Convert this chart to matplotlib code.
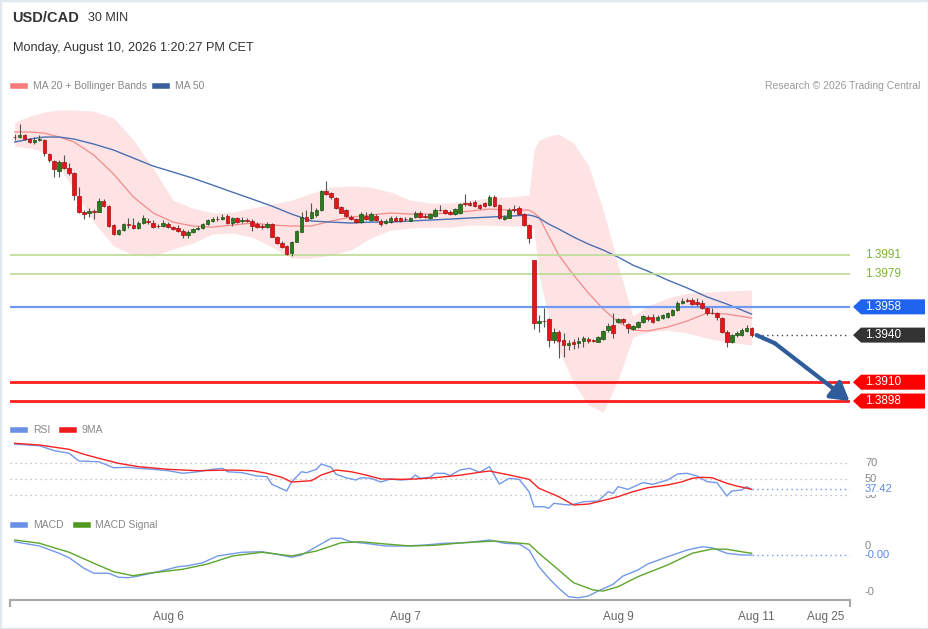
import matplotlib
matplotlib.use("Agg")
import matplotlib.pyplot as plt
import numpy as np
from matplotlib.patches import Polygon, Rectangle
from matplotlib.lines import Line2D

plt.rcParams['font.family'] = ['Liberation Sans', 'DejaVu Sans']

# ---- 30 min candles, USD/CAD ----
opens = [1.40662, 1.40662, 1.40674, 1.40649, 1.40630, 1.40643, 1.40643, 1.40553, 1.40509, 1.40445,
         1.40502, 1.40464, 1.40432, 1.40286, 1.40184, 1.40178, 1.40190, 1.40187, 1.40254, 1.40222,
         1.40101, 1.40044, 1.40069, 1.40107, 1.40101, 1.40082, 1.40114, 1.40127, 1.40114, 1.40095,
         1.40095, 1.40107, 1.40088, 1.40082, 1.40063, 1.40037, 1.40057, 1.40076, 1.40082, 1.40107,
         1.40127, 1.40139, 1.40139, 1.40158, 1.40114, 1.40146, 1.40127, 1.40133, 1.40127, 1.40107,
         1.40095, 1.40088, 1.40107, 1.40025, 1.39986, 1.39967, 1.39923, 1.39993, 1.40057, 1.40152,
         1.40146, 1.40165, 1.40197, 1.40318, 1.40305, 1.40273, 1.40216, 1.40197, 1.40152, 1.40139,
         1.40120, 1.40158, 1.40133, 1.40158, 1.40127, 1.40114, 1.40120, 1.40146, 1.40146, 1.40139,
         1.40127, 1.40152, 1.40178, 1.40158, 1.40146, 1.40158, 1.40197, 1.40197, 1.40184, 1.40171,
         1.40178, 1.40241, 1.40241, 1.40248, 1.40229, 1.40241, 1.40229, 1.40279, 1.40229, 1.40139,
         1.40146, 1.40203, 1.40209, 1.40171, 1.40101, 1.39878, 1.39477, 1.39490, 1.39502, 1.39369,
         1.39420, 1.39369, 1.39337, 1.39356, 1.39350, 1.39362, 1.39375, 1.39366, 1.39356, 1.39375,
         1.39432, 1.39464, 1.39483, 1.39502, 1.39471, 1.39439, 1.39451, 1.39483, 1.39515, 1.39515,
         1.39496, 1.39509, 1.39515, 1.39528, 1.39560, 1.39604, 1.39623, 1.39623, 1.39610, 1.39604,
         1.39572, 1.39541, 1.39541, 1.39509, 1.39420, 1.39356, 1.39400, 1.39400, 1.39426, 1.39445]
closes = [1.40660, 1.40674, 1.40649, 1.40630, 1.40643, 1.40649, 1.40560, 1.40515, 1.40458, 1.40502,
          1.40464, 1.40432, 1.40292, 1.40184, 1.40171, 1.40190, 1.40187, 1.40254, 1.40222, 1.40095,
          1.40044, 1.40069, 1.40107, 1.40101, 1.40082, 1.40114, 1.40146, 1.40120, 1.40088, 1.40092,
          1.40114, 1.40088, 1.40076, 1.40063, 1.40037, 1.40057, 1.40076, 1.40082, 1.40107, 1.40133,
          1.40139, 1.40137, 1.40152, 1.40114, 1.40146, 1.40120, 1.40133, 1.40127, 1.40095, 1.40088,
          1.40088, 1.40107, 1.40025, 1.39986, 1.39961, 1.39916, 1.39993, 1.40063, 1.40152, 1.40127,
          1.40184, 1.40197, 1.40318, 1.40299, 1.40279, 1.40209, 1.40178, 1.40158, 1.40139, 1.40120,
          1.40171, 1.40139, 1.40171, 1.40133, 1.40107, 1.40127, 1.40146, 1.40127, 1.40127, 1.40137,
          1.40146, 1.40178, 1.40152, 1.40154, 1.40171, 1.40197, 1.40195, 1.40178, 1.40171, 1.40203,
          1.40235, 1.40238, 1.40229, 1.40222, 1.40209, 1.40222, 1.40279, 1.40222, 1.40146, 1.40152,
          1.40197, 1.40200, 1.40171, 1.40101, 1.40018, 1.39477, 1.39490, 1.39488, 1.39369, 1.39420,
          1.39362, 1.39337, 1.39350, 1.39343, 1.39362, 1.39381, 1.39362, 1.39362, 1.39388, 1.39426,
          1.39458, 1.39413, 1.39502, 1.39483, 1.39445, 1.39458, 1.39483, 1.39521, 1.39502, 1.39483,
          1.39515, 1.39528, 1.39541, 1.39560, 1.39604, 1.39617, 1.39620, 1.39598, 1.39598, 1.39572,
          1.39541, 1.39538, 1.39515, 1.39420, 1.39356, 1.39400, 1.39413, 1.39432, 1.39445, 1.39400]
highs = [1.40681, 1.40744, 1.40681, 1.40655, 1.40662, 1.40674, 1.40649, 1.40560, 1.40515, 1.40515,
         1.40547, 1.40496, 1.40439, 1.40343, 1.40197, 1.40209, 1.40203, 1.40273, 1.40267, 1.40229,
         1.40107, 1.40076, 1.40114, 1.40146, 1.40146, 1.40127, 1.40165, 1.40146, 1.40133, 1.40107,
         1.40133, 1.40120, 1.40095, 1.40101, 1.40076, 1.40069, 1.40082, 1.40095, 1.40114, 1.40139,
         1.40152, 1.40158, 1.40171, 1.40171, 1.40152, 1.40152, 1.40152, 1.40146, 1.40139, 1.40120,
         1.40107, 1.40120, 1.40114, 1.40031, 1.39999, 1.39974, 1.39999, 1.40069, 1.40184, 1.40197,
         1.40241, 1.40209, 1.40324, 1.40381, 1.40311, 1.40279, 1.40222, 1.40203, 1.40165, 1.40146,
         1.40184, 1.40184, 1.40184, 1.40171, 1.40139, 1.40139, 1.40158, 1.40158, 1.40152, 1.40152,
         1.40152, 1.40190, 1.40190, 1.40171, 1.40178, 1.40209, 1.40229, 1.40203, 1.40197, 1.40209,
         1.40241, 1.40299, 1.40254, 1.40260, 1.40235, 1.40248, 1.40292, 1.40292, 1.40235, 1.40165,
         1.40209, 1.40229, 1.40222, 1.40178, 1.40107, 1.39878, 1.39528, 1.39572, 1.39509, 1.39445,
         1.39432, 1.39413, 1.39369, 1.39375, 1.39388, 1.39394, 1.39388, 1.39375, 1.39394, 1.39432,
         1.39477, 1.39541, 1.39509, 1.39509, 1.39477, 1.39464, 1.39490, 1.39528, 1.39528, 1.39534,
         1.39528, 1.39534, 1.39547, 1.39566, 1.39617, 1.39636, 1.39636, 1.39636, 1.39636, 1.39623,
         1.39579, 1.39572, 1.39547, 1.39515, 1.39432, 1.39407, 1.39426, 1.39445, 1.39464, 1.39451]
lows = [1.40643, 1.40655, 1.40643, 1.40623, 1.40617, 1.40636, 1.40541, 1.40502, 1.40407, 1.40407,
        1.40458, 1.40420, 1.40260, 1.40178, 1.40139, 1.40152, 1.40139, 1.40184, 1.40216, 1.40088,
        1.40037, 1.40037, 1.40063, 1.40082, 1.40076, 1.40076, 1.40107, 1.40107, 1.40082, 1.40082,
        1.40088, 1.40082, 1.40069, 1.40057, 1.40018, 1.40018, 1.40050, 1.40069, 1.40076, 1.40101,
        1.40120, 1.40127, 1.40133, 1.40107, 1.40095, 1.40114, 1.40114, 1.40120, 1.40063, 1.40082,
        1.40076, 1.40082, 1.40022, 1.39980, 1.39955, 1.39910, 1.39904, 1.39990, 1.40054, 1.40124,
        1.40139, 1.40152, 1.40190, 1.40292, 1.40267, 1.40206, 1.40175, 1.40152, 1.40133, 1.40117,
        1.40117, 1.40133, 1.40127, 1.40127, 1.40095, 1.40107, 1.40117, 1.40124, 1.40120, 1.40127,
        1.40124, 1.40146, 1.40149, 1.40146, 1.40139, 1.40155, 1.40190, 1.40171, 1.40165, 1.40165,
        1.40171, 1.40222, 1.40222, 1.40216, 1.40203, 1.40216, 1.40222, 1.40216, 1.40139, 1.40133,
        1.40143, 1.40184, 1.40165, 1.40095, 1.39986, 1.39439, 1.39420, 1.39451, 1.39324, 1.39350,
        1.39254, 1.39260, 1.39305, 1.39311, 1.39318, 1.39324, 1.39350, 1.39356, 1.39353, 1.39369,
        1.39420, 1.39381, 1.39477, 1.39471, 1.39413, 1.39432, 1.39445, 1.39480, 1.39490, 1.39477,
        1.39490, 1.39502, 1.39512, 1.39521, 1.39553, 1.39601, 1.39610, 1.39592, 1.39585, 1.39566,
        1.39528, 1.39534, 1.39496, 1.39413, 1.39324, 1.39350, 1.39388, 1.39394, 1.39420, 1.39388]

# ---- MA 20 + Bollinger bands, MA 50 (read at these candles) ----
ind_idx = [0, 3, 6, 9, 12, 16, 20, 24, 28, 32, 36, 40, 44, 48, 52, 56, 60, 64, 68, 72, 76, 80,
           84, 88, 92, 96, 100, 104, 105, 106, 108, 110, 113, 116, 119, 122, 125, 128, 132, 136,
           140, 144, 149]
bb_upper = [1.40757, 1.40795, 1.40821, 1.40834, 1.40834, 1.40827, 1.40783, 1.40643, 1.40464, 1.40260,
            1.40209, 1.40178, 1.40184, 1.40209, 1.40235, 1.40260, 1.40305, 1.40343, 1.40350, 1.40343,
            1.40311, 1.40260, 1.40241, 1.40241, 1.40260, 1.40273, 1.40280, 1.40292, 1.40579, 1.40643,
            1.40668, 1.40681, 1.40623, 1.40483, 1.40197, 1.39846, 1.39521, 1.39585, 1.39636, 1.39668,
            1.39674, 1.39681, 1.39687]
bb_lower = [1.40604, 1.40592, 1.40566, 1.40483, 1.40324, 1.40120, 1.39967, 1.39910, 1.39904, 1.39948,
            1.39986, 1.40044, 1.40050, 1.40025, 1.39961, 1.39891, 1.39891, 1.39910, 1.39942, 1.40018,
            1.40069, 1.40082, 1.40088, 1.40088, 1.40101, 1.40101, 1.40095, 1.40095, 1.40082, 1.39783,
            1.39509, 1.39305, 1.39095, 1.38955, 1.38910, 1.39114, 1.39388, 1.39420, 1.39432, 1.39413,
            1.39381, 1.39356, 1.39337]
ma20 = [1.40694, 1.40694, 1.40687, 1.40662, 1.40630, 1.40547, 1.40426, 1.40280, 1.40178, 1.40120,
        1.40095, 1.40088, 1.40101, 1.40114, 1.40101, 1.40095, 1.40095, 1.40127, 1.40152, 1.40165,
        1.40178, 1.40171, 1.40171, 1.40178, 1.40190, 1.40203, 1.40197, 1.40197, 1.40178, 1.40152,
        1.40031, 1.39910, 1.39783, 1.39668, 1.39566, 1.39483, 1.39432, 1.39426, 1.39451, 1.39490,
        1.39541, 1.39534, 1.39509]
ma50 = [1.40630, 1.40649, 1.40662, 1.40662, 1.40649, 1.40617, 1.40579, 1.40528, 1.40477, 1.40439,
        1.40400, 1.40356, 1.40311, 1.40267, 1.40222, 1.40171, 1.40127, 1.40120, 1.40114, 1.40120,
        1.40120, 1.40127, 1.40133, 1.40139, 1.40146, 1.40152, 1.40158, 1.40165, 1.40158, 1.40146,
        1.40107, 1.40076, 1.40025, 1.39980, 1.39942, 1.39897, 1.39846, 1.39808, 1.39751, 1.39700,
        1.39643, 1.39598, 1.39534]

# ---- key levels and forecast path ----
resist_levels = [1.3991, 1.3979]
pivot_level = 1.3958
support_levels = [1.3910, 1.3898]
last_price = 1.3940
arrow_idx = [150.0, 153.7, 168.8]
arrow_price = [1.3940, 1.39348, 1.3898]

# ---- RSI + 9MA ----
rsi_idx = [0, 5, 8, 11, 13, 17, 20, 23, 25, 28, 31, 34, 37, 40, 42, 43, 46, 49, 51, 52, 55, 56, 58,
           59, 61, 62, 64, 65, 67, 69, 70, 72, 74, 76, 78, 80, 81, 82, 84, 85, 87, 88, 90, 92, 94,
           96, 98, 100, 102, 104, 105, 107, 108, 109, 112, 113, 115, 118, 120, 121, 122, 124, 127,
           129, 132, 134, 136, 138, 140, 142, 144, 145, 147, 148, 149]
rsi_val = [94.1, 92.0, 85.8, 82.5, 72.9, 72.0, 64.5, 65.0, 63.8, 62.5, 60.8, 57.5, 59.5, 62.5, 63.8,
           59.5, 58.3, 54.1, 53.3, 43.8, 35.4, 47.0, 59.5, 58.3, 62.5, 69.1, 65.0, 56.3, 52.0, 49.1,
           52.0, 51.3, 46.6, 50.4, 49.1, 50.0, 55.4, 51.3, 52.5, 57.5, 57.5, 54.5, 61.6, 63.8, 58.8,
           65.8, 44.1, 51.3, 50.0, 34.5, 15.8, 15.8, 13.8, 20.0, 17.9, 18.8, 22.0, 22.9, 34.5, 32.5,
           40.8, 37.5, 45.8, 43.8, 49.1, 56.6, 57.5, 54.1, 47.0, 45.8, 29.1, 35.4, 36.6, 40.8, 37.42]
ma9_idx = [0, 5, 11, 14, 17, 21, 25, 31, 37, 44, 48, 51, 54, 56, 60, 62, 65, 68, 71, 74, 78, 81,
           85, 90, 94, 96, 100, 104, 106, 110, 113, 116, 118, 122, 125, 128, 132, 135, 137, 139,
           141, 144, 146, 149]
ma9_val = [95.0, 92.9, 87.5, 81.3, 76.3, 70.0, 65.8, 62.5, 60.8, 61.6, 60.8, 57.5, 52.5, 46.6, 48.3,
           55.4, 61.6, 59.5, 55.4, 50.4, 50.0, 50.4, 52.0, 55.1, 58.8, 60.4, 55.4, 50.0, 38.8, 28.3,
           17.9, 19.1, 22.0, 28.3, 34.5, 39.5, 42.9, 47.0, 51.3, 52.5, 52.0, 45.0, 41.6, 37.5]
rsi_levels = [70, 50, 30]
rsi_last = 37.42

# ---- MACD ----
macd_idx = [0, 5, 9, 11, 14, 16, 19, 21, 23, 25, 29, 33, 35, 38, 41, 46, 50, 53, 56, 58, 61, 64,
            66, 68, 72, 75, 79, 83, 87, 90, 93, 96, 99, 102, 104, 106, 108, 110, 112, 114, 116,
            118, 121, 123, 126, 128, 132, 136, 139, 141, 144, 147, 149]
macd_val = [0.00017, 0.0, -0.00029, -0.00047, -0.00089, -0.00109, -0.00109, -0.00125, -0.00127,
            -0.00120, -0.00103, -0.00083, -0.00079, -0.00067, -0.00040, -0.00025, -0.00023,
            -0.00033, -0.00045, -0.00036, -0.00003, 0.00031, 0.00031, 0.00017, 0.00008, 0.0, 0.0,
            0.00004, 0.00011, 0.00012, 0.00017, 0.00024, 0.00011, 0.00008, -0.00016, -0.00083,
            -0.00129, -0.00169, -0.00203, -0.00207, -0.00200, -0.00180, -0.00153, -0.00120,
            -0.00096, -0.00072, -0.00043, -0.00016, -0.00003, -0.00007, -0.00029, -0.00036, -0.00036]
sig_idx = [0, 5, 11, 16, 20, 24, 27, 34, 39, 44, 50, 56, 61, 66, 70, 75, 80, 85, 90, 97, 104, 106,
           110, 113, 117, 119, 122, 126, 132, 137, 141, 144, 147, 149]
sig_val = [0.00024, 0.00011, -0.00025, -0.00069, -0.00103, -0.00119, -0.00109, -0.00093, -0.00072,
           -0.00040, -0.00025, -0.00040, -0.00020, 0.00013, 0.00017, 0.00008, 0.0, 0.00003, 0.00012,
           0.00020, 0.00008, -0.00029, -0.00096, -0.00147, -0.00176, -0.00180, -0.00163, -0.00123,
           -0.00076, -0.00029, -0.00012, -0.00013, -0.00023, -0.00029]
macd_ticks = [0.0, -0.00183]

tick_idx = [31, 79, 122, 150, 164]
tick_labels = ['Aug 6', 'Aug 7', 'Aug 9', 'Aug 11', 'Aug 25']

W, H = 929, 629
fig = plt.figure(figsize=(W / 100, H / 100), dpi=100)


def frame(x0, y0, x1, y1):
    return [x0 / W, 1 - y1 / H, (x1 - x0) / W, (y1 - y0) / H]


def fy(y):
    return 1 - y / H


ax = fig.add_axes(frame(10, 105, 850, 415))
ax_rsi = fig.add_axes(frame(10, 435, 850, 515))
ax_macd = fig.add_axes(frame(10, 530, 850, 600))
x_lim = (-0.95, 168.9)
for a in (ax, ax_rsi, ax_macd):
    a.set_xlim(*x_lim)
    a.patch.set_alpha(0)
    for s in a.spines.values():
        s.set_visible(False)
    a.set_xticks([])
    a.set_yticks([])
ax.set_ylim(1.38891, 1.40866)
ax_rsi.set_ylim(5.4, 105.4)
ax_macd.set_ylim(-0.00216, 0.00064)

# bands and averages
ax.fill_between(ind_idx, bb_lower, bb_upper, color='#fde3e3', lw=0, zorder=1)
ax.plot(ind_idx, ma20, color='#f48a8a', lw=0.9, zorder=2)
ax.plot(ind_idx, ma50, color='#4a70b3', lw=1.0, zorder=2)

# levels
for v in resist_levels:
    ax.axhline(v, color='#bcdc94', lw=1.2, zorder=2.5)
ax.axhline(pivot_level, color='#6f9af2', lw=1.6, zorder=2.5)
for v in support_levels:
    ax.axhline(v, color='#ff1c1c', lw=2.0, zorder=2.5)

# candles
x = np.arange(len(closes))
o = np.array(opens)
c = np.array(closes)
up = c >= o
body = np.maximum(np.abs(c - o), 0.00002)
bottom = np.minimum(o, c)
ax.vlines(x, lows, highs, color='#555555', lw=0.8, zorder=3)
ax.bar(x[up], body[up], bottom=bottom[up], width=0.72, color='#2b7a1e',
       edgecolor='#1c5212', lw=0.5, zorder=4)
ax.bar(x[~up], body[~up], bottom=bottom[~up], width=0.72, color='#e8141a',
       edgecolor='#a01010', lw=0.5, zorder=4)

ax.plot([150, x_lim[1]], [last_price, last_price], color='#444444', lw=1,
        ls=(0, (1, 2.5)), zorder=3)

# forecast arrow: short flat leg, then straight shaft with head
ax.plot(arrow_idx[:2], arrow_price[:2], color='#2f5c9a', lw=3, solid_capstyle='round', zorder=6)
ax.annotate('', xy=(arrow_idx[2], arrow_price[2]), xytext=(arrow_idx[1], arrow_price[1]),
            arrowprops=dict(arrowstyle='-|>,head_length=0.85,head_width=0.5',
                            color='#2f5c9a', lw=3, mutation_scale=13, shrinkA=0, shrinkB=0),
            annotation_clip=False, zorder=6)


def to_fig(a, value):
    return fig.transFigure.inverted().transform(a.transData.transform((0, value)))[1]


def tag(a, value, text, face=None, tcolor='white', bg=None, size=8.5):
    yf = to_fig(a, value)
    if face:
        hh = 7.5 / H
        pts = [(853 / W, yf), (861 / W, yf + hh), (925 / W, yf + hh),
               (925 / W, yf - hh), (861 / W, yf - hh)]
        fig.add_artist(Polygon(pts, closed=True, transform=fig.transFigure,
                               facecolor=face, edgecolor='none'))
    kw = {}
    if bg:
        kw['bbox'] = dict(facecolor=bg, edgecolor='none', pad=0.5)
    fig.text(865 / W, yf, text, color=tcolor, fontsize=size, va='center', ha='left', **kw)


for v in resist_levels:
    tag(ax, v, f'{v:.4f}', tcolor='#7fb339')
tag(ax, pivot_level, f'{pivot_level:.4f}', face='#1f63ef')
tag(ax, last_price, f'{last_price:.4f}', face='#333333')
for v in support_levels:
    tag(ax, v, f'{v:.4f}', face='#ff0000')

# RSI panel
for v in rsi_levels:
    ax_rsi.axhline(v, color='#b4b4b4', lw=0.9, ls=(0, (1, 3)))
ax_rsi.plot(rsi_idx, rsi_val, color='#7399ea', lw=1)
ax_rsi.plot(ma9_idx, ma9_val, color='#f52222', lw=1)
ax_rsi.plot([149, x_lim[1]], [rsi_last, rsi_last], color='#7399ea', lw=1, ls=(0, (1, 2.5)))
for v in rsi_levels:
    tag(ax_rsi, v, str(v), tcolor='#888888', size=8)
tag(ax_rsi, rsi_last, f'{rsi_last:.2f}', tcolor='#5b86e8', bg='white', size=8)

# MACD panel
ax_macd.plot(macd_idx, macd_val, color='#7399ea', lw=1)
ax_macd.plot(sig_idx, sig_val, color='#5da52c', lw=1)
ax_macd.plot([149, x_lim[1]], [macd_val[-1]] * 2, color='#7399ea', lw=1, ls=(0, (1, 2.5)))
for v in macd_ticks:
    tag(ax_macd, v, f'{v:.0f}', tcolor='#888888', size=8)
tag(ax_macd, macd_val[-1], f'{macd_val[-1]:.2f}', tcolor='#5b86e8', bg='white', size=8)

ax_macd.spines['bottom'].set_visible(True)
ax_macd.spines['bottom'].set_color('#a8a8a8')
ax_macd.spines['bottom'].set_linewidth(1.5)
ax_macd.set_xticks(tick_idx)
ax_macd.set_xticklabels(tick_labels)
ax_macd.tick_params(axis='x', length=0, pad=8, labelsize=8.5, labelcolor='#666666')
ax_macd.set_xticks([x_lim[0] + 0.05, x_lim[1] - 0.05], minor=True)
ax_macd.tick_params(axis='x', which='minor', length=5, width=1.5, color='#a8a8a8')

# header
fig.text(12 / W, fy(18), 'USD/CAD', fontsize=10.5, fontweight='bold', color='#333333', va='center')
fig.text(88 / W, fy(18), '30 MIN', fontsize=9, color='#333333', va='center')
fig.text(13 / W, fy(48), 'Monday, August 10, 2026 1:20:27 PM CET', fontsize=9.2,
         color='#333333', va='center')
fig.text(920 / W, fy(86), 'Research \u00a9 2026 Trading Central', fontsize=7.5,
         color='#9a9a9a', va='center', ha='right')


def legend_item(x0, y, color, text, tx):
    fig.add_artist(Line2D([x0 / W, (x0 + 12) / W], [fy(y), fy(y)], lw=4, color=color,
                          transform=fig.transFigure))
    fig.text(tx / W, fy(y), text, fontsize=7.5, color='#888888', va='center')


legend_item(13, 86, '#f77b7b', 'MA 20 + Bollinger Bands', 33)
legend_item(155, 86, '#3b5f9e', 'MA 50', 175)
legend_item(13, 430, '#6a8fe6', 'RSI', 33)
legend_item(62, 430, '#ee1c1c', '9MA', 82)
legend_item(13, 525, '#6a8fe6', 'MACD', 33)
legend_item(76, 525, '#4f9a1e', 'MACD Signal', 95)

fig.add_artist(Rectangle((0, 0), 1, 1, transform=fig.transFigure, fill=False,
                         edgecolor='#e1e8ee', lw=2.5))

fig.savefig('out.png', dpi=100)
